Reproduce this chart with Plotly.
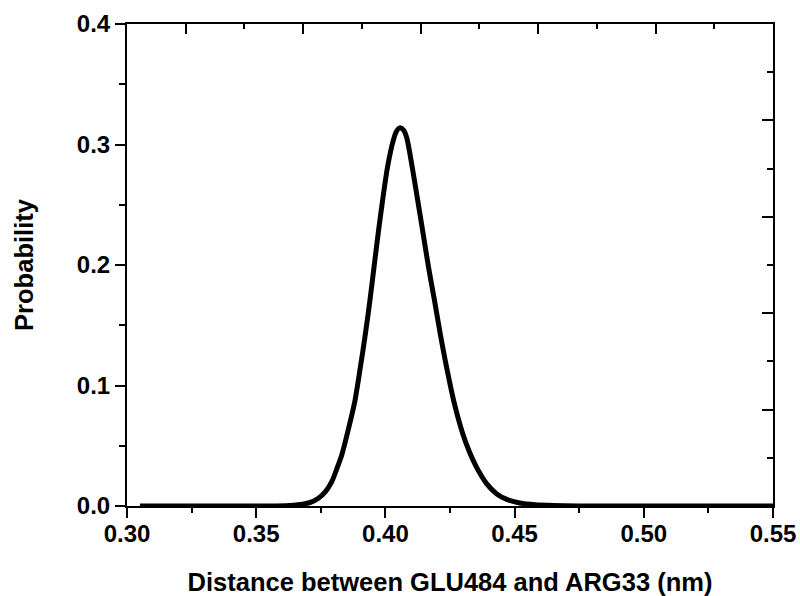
import plotly.graph_objects as go

# Distance (nm) and probability
distance = [0.305, 0.32, 0.34, 0.355, 0.363, 0.368, 0.3710, 0.3738, 0.3768, 0.3792,
            0.3814, 0.3832, 0.3852, 0.3880, 0.3903, 0.3922, 0.3940, 0.3957, 0.3972,
            0.3990, 0.4008, 0.4030, 0.4043, 0.4057, 0.4070, 0.4082, 0.4104, 0.4124,
            0.4146, 0.4167, 0.4190, 0.4213, 0.4237, 0.4267, 0.4300, 0.4325, 0.4353,
            0.4390, 0.4431, 0.447, 0.452, 0.458, 0.465, 0.475, 0.49, 0.51, 0.53, 0.55]
probability = [0, 0, 0, 0, 0.0005, 0.0015, 0.003, 0.006, 0.012, 0.020,
               0.032, 0.043, 0.0596, 0.085, 0.115, 0.142, 0.1705, 0.200, 0.226,
               0.255, 0.281, 0.303, 0.311, 0.314, 0.312, 0.306, 0.281, 0.255,
               0.226, 0.198, 0.1705, 0.142, 0.115, 0.085, 0.0596, 0.045, 0.032,
               0.019, 0.010, 0.0055, 0.0025, 0.001, 0.0004, 0.0001, 0, 0, 0, 0]

x_title = "Distance between GLU484 and ARG33 (nm)"
y_title = "Probability"

font_fam = "Arial, Liberation Sans, sans-serif"

fig = go.Figure()
fig.add_trace(go.Scatter(x=distance, y=probability, mode="lines",
                         line=dict(color="black", width=5, shape="spline", smoothing=0.8),
                         showlegend=False, hoverinfo="skip"))
# invisible trace to anchor the top/right frame axes
fig.add_trace(go.Scatter(x=[0], y=[0], xaxis="x2", yaxis="y2", mode="markers",
                         marker=dict(opacity=0), showlegend=False, hoverinfo="skip"))

fig.update_layout(
    width=800, height=596,
    margin=dict(l=127, r=27, t=24, b=90),
    plot_bgcolor="white", paper_bgcolor="white",
    font=dict(family=font_fam, color="black"),
    xaxis=dict(range=[0.30, 0.55], dtick=0.05, tick0=0.30, tickformat=".2f",
               automargin=False,
               showline=True, linewidth=2, linecolor="black", mirror=False,
               ticks="outside", ticklen=10, tickwidth=2, tickcolor="black",
               ticklabelstandoff=-5,
               minor=dict(ticks="outside", ticklen=5, tickwidth=2, dtick=0.025, tickcolor="black"),
               showgrid=False, zeroline=False,
               tickfont=dict(size=24, weight="bold", family=font_fam),
               title=dict(text=x_title, font=dict(size=25.5, weight="bold", family=font_fam), standoff=31)),
    yaxis=dict(range=[0, 0.4], dtick=0.1, tick0=0, tickformat=".1f",
               automargin=False,
               showline=True, linewidth=2, linecolor="black",
               ticks="outside", ticklen=10, tickwidth=2, tickcolor="black",
               minor=dict(ticks="outside", ticklen=6, tickwidth=2, dtick=0.05, tickcolor="black"),
               showgrid=False, zeroline=False,
               tickfont=dict(size=24, weight="bold", family=font_fam),
               title=dict(text=y_title, font=dict(size=25.5, weight="bold", family=font_fam), standoff=36)),
    xaxis2=dict(overlaying="x", side="top", anchor="y2", range=[0, 11], automargin=False,
                tick0=1, dtick=2, showticklabels=False,
                showline=True, linewidth=2, linecolor="black",
                ticks="inside", ticklen=10, tickwidth=2, tickcolor="black",
                minor=dict(ticks="inside", ticklen=5, tickwidth=2, dtick=1, tick0=0, tickcolor="black"),
                showgrid=False, zeroline=False),
    yaxis2=dict(overlaying="y", side="right", anchor="x2", range=[0, 10], automargin=False,
                tick0=0, dtick=2, showticklabels=False,
                showline=True, linewidth=2, linecolor="black",
                ticks="inside", ticklen=11, tickwidth=2, tickcolor="black",
                minor=dict(ticks="inside", ticklen=6, tickwidth=2, dtick=1, tick0=0, tickcolor="black"),
                showgrid=False, zeroline=False),
)

fig.write_html("out.html", config={"displayModeBar": False},
               post_script="document.body.style.margin='0';document.body.style.padding='0';")
